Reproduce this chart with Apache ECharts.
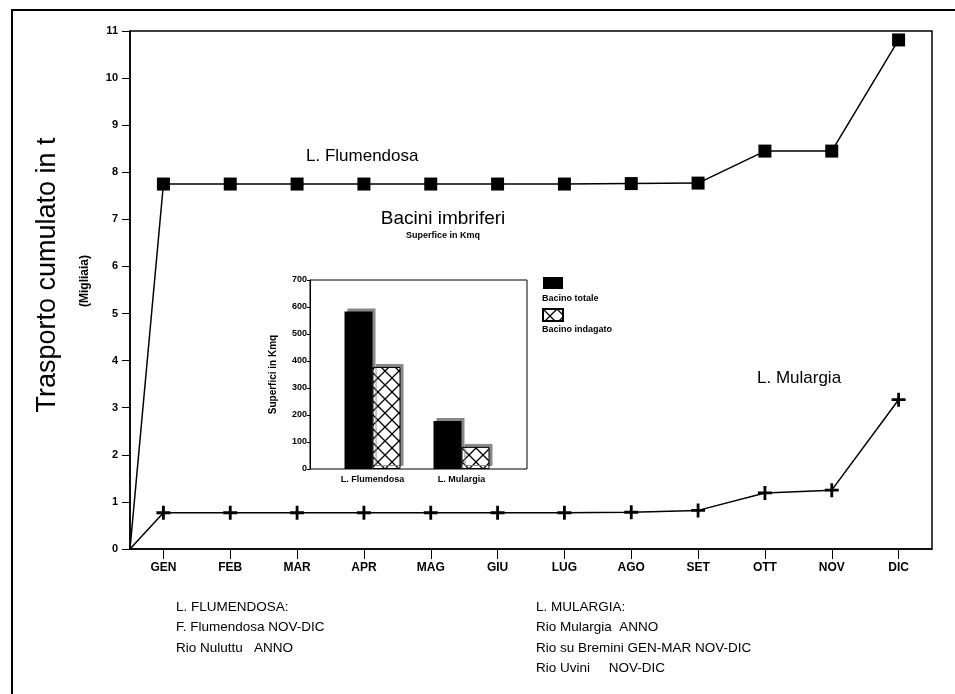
<!DOCTYPE html>
<html>
<head>
<meta charset="utf-8">
<script src="https://cdn.jsdelivr.net/npm/echarts@6/dist/echarts.min.js"></script>
<style>
  html, body { margin: 0; padding: 0; background: #fff; }
  #chart { width: 955px; height: 694px; }
</style>
</head>
<body>
<div id="chart"></div>
<script>
// main chart: cumulated transport (thousands of t)
var months = ['GEN', 'FEB', 'MAR', 'APR', 'MAG', 'GIU', 'LUG', 'AGO', 'SET', 'OTT', 'NOV', 'DIC'];
var flumendosa = [7.75, 7.75, 7.75, 7.75, 7.75, 7.75, 7.75, 7.76, 7.77, 8.45, 8.45, 10.81];
var mulargia = [0.77, 0.77, 0.77, 0.77, 0.77, 0.77, 0.77, 0.78, 0.82, 1.19, 1.25, 3.17];
var startValue = 0; // both curves start from zero at the axis origin

// inset: basin surfaces (Kmq)
var basins = ['L. Flumendosa', 'L. Mulargia'];
var bacinoTotale = [583, 178];
var bacinoIndagato = [378, 82];

var notesFlumendosa = ['L. FLUMENDOSA:', 'F. Flumendosa NOV-DIC', 'Rio Nuluttu   ANNO'];
var notesMulargia = ['L. MULARGIA:', 'Rio Mulargia  ANNO', 'Rio su Bremini GEN-MAR NOV-DIC', 'Rio Uvini     NOV-DIC'];

var font = '"Liberation Sans", Arial, sans-serif';

function cumulated(values) {
    var out = [{ value: [-0.5, startValue], symbol: 'none' }];
    values.forEach(function (v, i) {
        out.push([i, v]);
    });
    return out;
}

// cross hatch for "Bacino indagato"
var hatch = document.createElement('canvas');
hatch.width = 14;
hatch.height = 14;
var ctx = hatch.getContext('2d');
ctx.fillStyle = '#fff';
ctx.fillRect(0, 0, 14, 14);
ctx.strokeStyle = '#000';
ctx.lineWidth = 1.3;
ctx.beginPath();
ctx.moveTo(0, 0); ctx.lineTo(14, 14);
ctx.moveTo(14, 0); ctx.lineTo(0, 14);
ctx.stroke();

var chart = echarts.init(document.getElementById('chart'), null, { renderer: 'canvas' });

function txt(size, weight) {
    return { fontSize: size, fontWeight: weight || 'normal', color: '#000', fontFamily: font };
}

var option = {
    backgroundColor: '#fff',
    animation: false,
    textStyle: { fontFamily: font, color: '#000' },
    graphic: [
        {
            type: 'polyline', silent: true,
            shape: { points: [[12, 700], [12, 10], [960, 10]] },
            style: { stroke: '#000', lineWidth: 2, fill: null }
        },
        {
            type: 'text', x: 48, y: 275, rotation: Math.PI / 2,
            style: { text: 'Trasporto cumulato in t', font: '27px ' + font, fill: '#000', align: 'center', verticalAlign: 'middle' }
        },
        {
            type: 'text', x: 85, y: 281, rotation: Math.PI / 2,
            style: { text: '(Migliaia)', font: 'bold 12px ' + font, fill: '#000', align: 'center', verticalAlign: 'middle' }
        }
    ],
    title: [
        { text: 'L. Flumendosa', left: 306, top: 148, padding: 0, textStyle: txt(17) },
        { text: 'Bacini imbriferi', subtext: 'Superfice in Kmq', left: 443, top: 209, padding: 0, itemGap: 3,
          textAlign: 'center', textStyle: txt(19), subtextStyle: txt(9, 'bold') },
        { text: 'L. Mulargia', left: 757, top: 370, padding: 0, textStyle: txt(17) },
        { text: 'Bacino totale', left: 542, top: 294, padding: 0, textStyle: txt(9, 'bold') },
        { text: 'Bacino indagato', left: 542, top: 325, padding: 0, textStyle: txt(9, 'bold') },
        { text: notesFlumendosa.join('\n'), left: 176, top: 597, padding: 0,
          textStyle: { fontSize: 13.5, fontWeight: 'normal', lineHeight: 20.5, color: '#000', fontFamily: font } },
        { text: notesMulargia.join('\n'), left: 536, top: 597, padding: 0,
          textStyle: { fontSize: 13.5, fontWeight: 'normal', lineHeight: 20.5, color: '#000', fontFamily: font } }
    ],
    legend: {
        left: 542, top: 277, orient: 'vertical', icon: 'rect', padding: 0,
        itemWidth: 20, itemHeight: 12, itemGap: 19,
        formatter: function () { return ''; },
        textStyle: { fontSize: 1 },
        data: ['Bacino totale', 'Bacino indagato'],
        selectedMode: false
    },
    grid: [
        { left: 130, top: 31, width: 802, height: 518, show: true, borderColor: '#000', borderWidth: 1.5 },
        { left: 310, top: 280, width: 217, height: 189, show: true, borderColor: '#000', borderWidth: 1 },
        { left: 328, top: 280, width: 178, height: 189 }
    ],
    xAxis: [
        {
            gridIndex: 0, type: 'value', min: -0.5, max: 11.5,
            splitLine: { show: false },
            axisLine: { onZero: false, lineStyle: { color: '#000', width: 1.5 } },
            axisTick: { length: 10, lineStyle: { color: '#000' }, customValues: months.map(function (m, i) { return i; }) },
            axisLabel: {
                customValues: months.map(function (m, i) { return i; }),
                formatter: function (v) { return months[Math.round(v)]; },
                margin: 13, fontSize: 12, fontWeight: 'bold', color: '#000', fontFamily: font
            }
        },
        { gridIndex: 1, type: 'value', show: false },
        {
            gridIndex: 2, type: 'category', data: basins,
            axisLine: { show: false }, axisTick: { show: false },
            axisLabel: { fontSize: 9, fontWeight: 'bold', color: '#000', margin: 6, fontFamily: font }
        }
    ],
    yAxis: [
        {
            gridIndex: 0, type: 'value', min: 0, max: 11, interval: 1,
            splitLine: { show: false },
            axisLine: { show: true, onZero: false, lineStyle: { color: '#000', width: 1.5 } },
            axisTick: { show: true, length: 8, lineStyle: { color: '#000' } },
            axisLabel: { fontSize: 11, fontWeight: 'bold', color: '#000', margin: 12, fontFamily: font }
        },
        {
            gridIndex: 1, type: 'value', min: 0, max: 700, interval: 100,
            splitLine: { show: false },
            axisLine: { show: true, onZero: false, lineStyle: { color: '#000' } },
            axisTick: { show: true, length: 3, lineStyle: { color: '#000' } },
            axisLabel: { fontSize: 9, fontWeight: 'bold', color: '#000', margin: 3, fontFamily: font },
            name: 'Superfici in Kmq', nameLocation: 'middle', nameGap: 32,
            nameTextStyle: { fontSize: 10, fontWeight: 'bold', color: '#000', fontFamily: font }
        },
        { gridIndex: 2, type: 'value', min: 0, max: 700, show: false }
    ],
    series: [
        {
            name: 'L. Flumendosa', type: 'line', xAxisIndex: 0, yAxisIndex: 0,
            data: cumulated(flumendosa),
            symbol: 'rect', symbolSize: 13,
            lineStyle: { color: '#000', width: 1.5 },
            itemStyle: { color: '#000' }
        },
        {
            name: 'L. Mulargia', type: 'line', xAxisIndex: 0, yAxisIndex: 0,
            data: cumulated(mulargia),
            symbol: 'path://M4,0H6V4H10V6H6V10H4V6H0V4H4Z', symbolSize: 14,
            lineStyle: { color: '#000', width: 1.5 },
            itemStyle: { color: '#000' }
        },
        {
            name: 'Bacino totale', type: 'bar', xAxisIndex: 2, yAxisIndex: 2,
            data: bacinoTotale, barWidth: 28, barGap: '0%',
            itemStyle: { color: '#000', shadowColor: '#888', shadowOffsetX: 3, shadowOffsetY: -3, shadowBlur: 0 }
        },
        {
            name: 'Bacino indagato', type: 'bar', xAxisIndex: 2, yAxisIndex: 2,
            data: bacinoIndagato, barWidth: 28,
            itemStyle: {
                color: { image: hatch, repeat: 'repeat' },
                borderColor: '#000', borderWidth: 1,
                shadowColor: '#888', shadowOffsetX: 3, shadowOffsetY: -3, shadowBlur: 0
            }
        }
    ]
};

chart.setOption(option);
</script>
</body>
</html>
